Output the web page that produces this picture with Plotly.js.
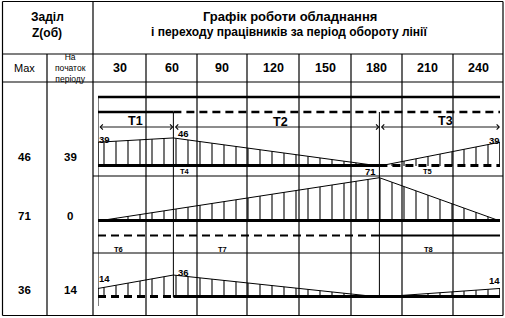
<!DOCTYPE html>
<html>
<head>
<meta charset="utf-8">
<script src="https://cdn.plot.ly/plotly-3.0.1.min.js"></script>
<style>
  html, body { margin: 0; padding: 0; background: #fff; }
  #chart { width: 505px; height: 318px; }
</style>
</head>
<body>
<div id="chart"></div>
<script>
// ---- data ----------------------------------------------------------------
// boundaries of the periods T1, T2, T3 within the line turnover (minutes)
const periodBounds = [0, 45, 168, 240];
const periodNames = ['T1', 'T2', 'T3'];
const subPeriodNames = ['T4', 'T5', 'T6', 'T7', 'T8'];
const headerTimes = ['30', '60', '90', '120', '150', '180', '210', '240'];

// backlog Z (pcs): maximum and at the start of the period, per operation pair
const maxBacklog = [46, 71, 36];
const startBacklog = [39, 0, 14];

// backlog profiles over the turnover period
const prof1Time = [0, 45, 168, 240];
const prof1Val = [39, 46, 0, 39];
const prof2Time = [0, 168, 240];
const prof2Val = [0, 71, 0];
const prof3Time = [0, 45, 168, 240];
const prof3Val = [14, 36, 0, 14];

// equipment / worker schedules: [from, to, state]  (work = busy, move = transfer)
const schedA = [[0, 240, 'work']];
const schedB = [[0, 45, 'work'], [45, 240, 'move']];
const schedC = [[0, 168, 'work'], [168, 240, 'move']];
const schedD = [[0, 240, 'work']];
const schedE = [[0, 168, 'move'], [168, 240, 'work']];
const schedF = [[0, 45, 'move'], [45, 240, 'work']];

// ---- geometry helpers ----------------------------------------------------
const W = 505, H = 318;
const PX = v => v / W;          // pixel x -> paper
const PY = v => 1 - v / H;      // pixel y -> paper
const SCALE = 0.61;             // px per piece on the backlog axes
const FONT = 'Liberation Sans, Arial, sans-serif';

const shapes = [];
const annotations = [];

function pLine(x0, y0, x1, y1, width) {
  shapes.push({type: 'line', xref: 'paper', yref: 'paper',
    x0: PX(x0), y0: PY(y0), x1: PX(x1), y1: PY(y1),
    line: {color: '#000', width: width || 1.2}});
}
function text(str, x, y, size, bold, extra) {
  annotations.push(Object.assign({
    text: bold ? '<b>' + str + '</b>' : str,
    xref: 'paper', yref: 'paper', x: PX(x), y: PY(y),
    xanchor: 'center', yanchor: 'middle', showarrow: false,
    font: {family: FONT, size: size, color: '#000'}
  }, extra || {}));
}

// ---- table frame ---------------------------------------------------------
const colEdges = [93, 146, 197, 247, 299, 351, 402, 453, 503];
pLine(2.5, 1.5, 503, 1.5);
pLine(2.5, 315.5, 503, 315.5);
pLine(2.5, 1.5, 2.5, 315.5);
pLine(503, 1.5, 503, 315.5);
pLine(2.5, 54, 503, 54);
pLine(2.5, 82, 503, 82);
pLine(47, 54, 47, 315.5);
pLine(93, 1.5, 93, 315.5);
colEdges.slice(1, -1).forEach(x => pLine(x, 54, x, 315.5));
pLine(93, 176, 503, 176);
pLine(93, 253, 503, 253);

// ---- header text -----------------------------------------------------------
text('Заділ', 47, 17, 12, true);
text('Z(об)', 47, 33, 12, true);
text('Графік роботи обладнання', 290, 17, 13, true);
text('і переходу працівників за період обороту лінії', 289, 32, 12, true);
text('Max', 24, 68, 11, false);
text('На<br>початок<br>періоду', 70, 67.5, 8.5, false, {});
headerTimes.forEach((t, i) => text(t, (colEdges[i] + colEdges[i + 1]) / 2, 68, 12.5, true));

// left columns: max and starting backlog
const rowCentres = [157, 216, 290];
maxBacklog.forEach((v, i) => text(String(v), 24, rowCentres[i], 11.5, true));
startBacklog.forEach((v, i) => text(String(v), 70, rowCentres[i], 11.5, true));

// ---- schedules drawn on the time axis ---------------------------------------
function schedule(segs, y, width) {
  segs.forEach(([a, b, st]) => shapes.push({
    type: 'line', xref: 'x', yref: 'paper', x0: a, x1: b, y0: PY(y), y1: PY(y),
    line: {color: '#000', width: width, dash: st === 'work' ? 'solid' : '8px,5px'}
  }));
}
schedule(schedA, 97, 2.4);
schedule(schedB, 112, 2.4);
schedule(schedC, 165.5, 3);
schedule(schedD, 220.5, 3);
schedule(schedE, 235.5, 2.2);
schedule(schedF, 296.5, 3);

// period boundary verticals
shapes.push({type: 'line', xref: 'x', yref: 'paper', x0: periodBounds[0], x1: periodBounds[0],
  y0: PY(97), y1: PY(306), line: {color: '#000', width: 1}});
periodBounds.slice(1, -1).forEach(t => shapes.push({
  type: 'line', xref: 'x', yref: 'paper', x0: t, x1: t,
  y0: PY(112), y1: PY(297), line: {color: '#000', width: 1}}));

// dimension line with arrows for T1..T3
for (let i = 0; i < periodNames.length; i++) {
  annotations.push({
    xref: 'x', yref: 'paper', x: periodBounds[i + 1], y: PY(127),
    axref: 'x', ayref: 'pixel', ax: periodBounds[i], ay: 0,
    text: '', showarrow: true, arrowhead: 4, arrowside: 'end+start',
    arrowsize: 1.1, arrowwidth: 0.9, arrowcolor: '#000', standoff: 0, startstandoff: 0
  });
}
const periodLabelPx = [[135, 121], [280, 122], [445, 121]];
periodNames.forEach((n, i) => text(n, periodLabelPx[i][0], periodLabelPx[i][1], 12.5, true));
const subLabelPx = [[185, 171], [427, 171], [118, 249], [222, 249], [428, 249]];
subPeriodNames.forEach((n, i) => text(n, subLabelPx[i][0], subLabelPx[i][1], 7.5, true));

// ---- backlog profiles -------------------------------------------------------
function profile(t, v, axis) {
  return {
    type: 'scatter', mode: 'lines', xaxis: 'x', yaxis: axis,
    x: [t[0]].concat(t, [t[t.length - 1]]),
    y: [0].concat(v, [0]),
    fill: 'toself', fillcolor: 'rgba(0,0,0,0)',
    fillpattern: {shape: '|', size: 12, solidity: 0.09, fgcolor: '#000', bgcolor: 'rgba(0,0,0,0)'},
    line: {color: '#000', width: 1}, hoverinfo: 'skip', showlegend: false
  };
}
const traces = [
  profile(prof1Time, prof1Val, 'y'),
  profile(prof2Time, prof2Val, 'y2'),
  profile(prof3Time, prof3Val, 'y3')
];

// value labels at the profile's start, peak and end
function valueLabel(t, v, axis, dx, dy) {
  annotations.push({
    xref: 'x', yref: axis, x: t, y: v, text: '<b>' + v + '</b>', showarrow: false,
    xanchor: 'center', yanchor: 'middle', xshift: dx, yshift: dy,
    font: {family: FONT, size: 9.5, color: '#000'}
  });
}
valueLabel(prof1Time[0], prof1Val[0], 'y', 6.5, 3);
valueLabel(prof1Time[1], prof1Val[1], 'y', 10, 4);
valueLabel(prof1Time[3], prof1Val[3], 'y', -6, 1.5);
valueLabel(prof2Time[1], prof2Val[1], 'y2', -9, 6);
valueLabel(prof3Time[0], prof3Val[0], 'y3', 6, 10);
valueLabel(prof3Time[1], prof3Val[1], 'y3', 10, 3);
valueLabel(prof3Time[3], prof3Val[3], 'y3', -6, 8);

// ---- axes --------------------------------------------------------------------
const hidden = {showgrid: false, zeroline: false, showticklabels: false, showline: false,
  ticks: '', fixedrange: true};
function yAxis(bottomPx, topPx) {
  return Object.assign({}, hidden, {
    domain: [PY(bottomPx), PY(topPx)], range: [0, (bottomPx - topPx) / SCALE], anchor: 'x'
  });
}

const layout = {
  width: W, height: H, autosize: false,
  margin: {l: 0, r: 0, t: 0, b: 0, pad: 0},
  paper_bgcolor: '#fff', plot_bgcolor: 'rgba(0,0,0,0)',
  showlegend: false,
  xaxis: Object.assign({}, hidden, {domain: [PX(98), PX(500)], range: [periodBounds[0], periodBounds[3]], anchor: 'y'}),
  yaxis: yAxis(166, 120),
  yaxis2: yAxis(221, 170),
  yaxis3: yAxis(297, 262),
  shapes: shapes,
  annotations: annotations
};

Plotly.newPlot('chart', traces, layout, {staticPlot: true, displayModeBar: false});
</script>
</body>
</html>
